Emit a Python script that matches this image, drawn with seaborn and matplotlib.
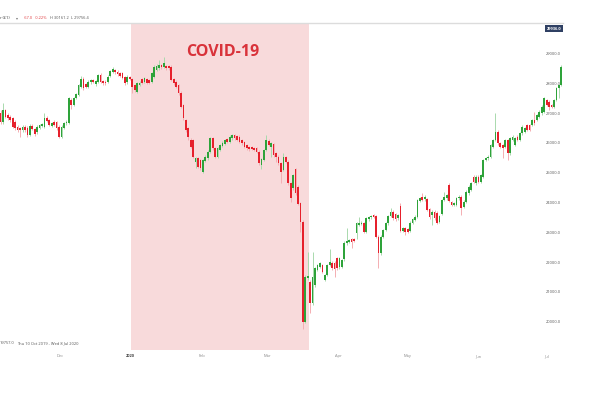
import matplotlib
matplotlib.use("Agg")
import matplotlib.pyplot as plt
import matplotlib.transforms as mtransforms
import numpy as np
import pandas as pd
import seaborn as sns

# ---------------- data ----------------
opens = [
    26992, 26712, 27104, 26936, 26880, 26824, 26712, 26544, 26488, 26432,
    26544, 26510, 26280, 26577, 26466, 26354, 26510, 26577, 26544, 26846,
    26768, 26577, 26712, 26712, 26544, 26209, 26510, 26656, 26656, 27440,
    27272, 27518, 27607, 27887, 28144, 27965, 27887, 28032, 28111, 27965,
    28055, 28279, 28077, 28055, 28055, 28256, 28390, 28447, 28390, 28335,
    28335, 28223, 28032, 28223,
    28134, 27943, 27720, 27943, 28134, 28055, 28134, 28111, 28055, 28223,
    28447, 28503, 28615, 28559, 28581, 28581, 28559, 28134, 28055, 27943,
    27686, 27272, 26768, 26489, 26097, 26097, 25370, 25482, 25426, 25034,
    25404, 25482, 25705, 26153, 25817, 25538, 25761, 25895, 25963, 26119,
    26041, 26153, 26265, 26231, 26209, 26097, 26041, 25929, 25873, 25850,
    25817, 25817, 25705,
    25258, 25426, 25762, 26075, 25874, 25963, 25650, 25538, 25314, 25090,
    25515, 25370, 24643, 24475, 25113, 24531, 23971, 23356, 20000, 21453,
    21341, 20614, 21230, 21733, 21845, 21901, 21397, 21565, 21901, 21979,
    21979, 22125, 21823, 21845,
    22092, 22630, 22686, 22764, 22764, 22965, 23245, 23279, 23301, 23021,
    23435, 23502, 23581, 23547, 22853, 22294, 22853, 23077, 23301, 23547,
    23693, 23614, 23469, 23883, 23055, 23133, 23100, 23055, 23323, 23413,
    23525, 24062, 24196, 24107, 24107, 23771, 23581, 23693, 23659, 23357,
    23614, 24084, 24140,
    24600, 24000, 23920, 23920, 24140, 24196, 23860, 24028, 24306, 24418,
    24865, 24641, 24865, 24697, 24865, 25425, 25481, 25537, 25872, 26096,
    26376, 25984, 25928, 25872, 26096, 25649, 26096, 25928, 26208, 26096,
    26320, 26376, 26600, 26600, 26600, 26768, 26768, 26880, 26991, 27047,
    27439, 27383, 27271, 27215, 27439, 27831, 27943,
]
closes = [
    26712, 27104, 26880, 26824, 26768, 26544, 26488, 26432, 26420, 26544,
    26432, 26264, 26577, 26466, 26287, 26544, 26600, 26622, 26824, 26735,
    26600, 26656, 26600, 26488, 26209, 26544, 26656, 26712, 27495, 27272,
    27495, 27630, 27943, 28144, 27831, 27887, 28055, 28111, 28055, 28077,
    28279, 28055, 27999, 27999, 28223, 28413, 28480, 28368, 28301, 28256,
    28189, 27999, 28223, 28144,
    27887, 27776, 27999, 28022, 28022, 28167, 28022, 28022, 28335, 28559,
    28581, 28615, 28537, 28671, 28503, 28503, 28111, 27999, 27887, 27664,
    27216, 26824, 26433, 26209, 25873, 25538, 25482, 25202, 25146, 25426,
    25538, 25705, 26153, 25817, 25538, 25817, 25929, 26007, 26097, 26041,
    26209, 26265, 26153, 26097, 26041, 25985, 25873, 25817, 25784, 25790,
    25761, 25705, 25314,
    25448, 25762, 26097, 25929, 25985, 25594, 25538, 25314, 25034, 25515,
    25370, 24643, 24139, 24922, 24307, 23949, 23356, 20000, 21509, 21532,
    20614, 21509, 21789, 21901, 21957, 21677, 21565, 21901, 22013, 21789,
    21756, 21789, 22125, 22069,
    22652, 22708, 22741, 22686, 22708, 23301, 23323, 23323, 23021, 23469,
    23502, 23547, 23525, 22853, 22294, 22853, 23077, 23301, 23547, 23693,
    23469, 23435, 23581, 23055, 23133, 23021, 23021, 23323, 23435, 23525,
    24084, 24140, 24084, 24196, 23749, 23502, 23693, 23469, 23323, 23547,
    24084, 24196, 24252,
    24050, 23920, 23970, 24140, 24196, 23805, 24028, 24364, 24530, 24641,
    24697, 24865, 24697, 24921, 25425, 25481, 25537, 25928, 26096, 26376,
    25984, 25872, 25816, 26096, 25649, 26152, 26208, 26152, 26096, 26320,
    26544, 26488, 26432, 26432, 26768, 26656, 26936, 27047, 27215, 27495,
    27271, 27215, 27215, 27439, 27831, 27943, 28558,
]
highs = [
    27100, 27330, 27150, 27000, 26930, 26880, 26760, 26600, 26540, 26600,
    26600, 26560, 26620, 26630, 26510, 26590, 26650, 26680, 26992, 26900,
    26810, 26700, 26760, 26750, 26590, 26600, 26700, 26760, 27550, 27490,
    27540, 27680, 27990, 28250, 28200, 28010, 28100, 28160, 28150, 28120,
    28320, 28330, 28120, 28100, 28270, 28460, 28560, 28490, 28430, 28380,
    28380, 28260, 28270, 28260,
    28170, 27990, 28040, 28070, 28180, 28210, 28180, 28150, 28380, 28600,
    28640, 28783, 28660, 28895, 28630, 28630, 28600, 28180, 28100, 27990,
    27730, 27320, 26810, 26530, 26150, 26140, 25530, 25530, 25470, 25470,
    25580, 25750, 26200, 26200, 25860, 25860, 25970, 26050, 26140, 26160,
    26250, 26310, 26310, 26270, 26250, 26140, 26080, 25970, 25910, 25890,
    25860, 25860, 25750,
    25500, 25800, 26265, 26120, 26030, 26010, 25700, 25580, 25360, 25650,
    25560, 25410, 24690, 24970, 25160, 24580, 24020, 23400, 21560, 22349,
    21390, 22349, 21840, 21950, 22000, 21950, 21610, 21950, 22450, 22030,
    22030, 22170, 22170, 22110,
    22700, 23133, 22790, 22810, 22810, 23350, 23525, 23370, 23350, 23510,
    23550, 23590, 23630, 23590, 22900, 22900, 23120, 23350, 23590, 23804,
    23740, 23660, 23630, 23972, 23180, 23180, 23140, 23370, 23480, 23570,
    24130, 24190, 24308, 24240, 24150, 23810, 23740, 23740, 23700, 23590,
    24130, 24364, 24300,
    24650, 24050, 24020, 24190, 24240, 24240, 24080, 24410, 24580, 24690,
    24910, 24910, 24910, 24970, 25470, 25530, 25580, 25970, 26140, 26991,
    26420, 26030, 25970, 26140, 26140, 26200, 26250, 26200, 26250, 26370,
    26590, 26530, 26640, 26640, 26810, 27047, 26980, 27090, 27260, 27540,
    27480, 27430, 27310, 27480, 27870, 27990, 28600,
]
lows = [
    26650, 26650, 26820, 26780, 26700, 26500, 26430, 26380, 26209, 26380,
    26380, 26200, 26230, 26420, 26230, 26300, 26470, 26540, 26500, 26690,
    26550, 26530, 26550, 26440, 26150, 26150, 26470, 26610, 26620, 27150,
    27230, 27470, 27560, 27850, 27780, 27840, 27850, 27990, 28010, 27920,
    28010, 28010, 27950, 27950, 28010, 28210, 28350, 28320, 28250, 28210,
    28140, 27950, 27990, 28100,
    27664, 27720, 27680, 27900, 27980, 28010, 27980, 27980, 28010, 28180,
    28400, 28460, 28490, 28510, 28460, 28460, 28070, 27950, 27840, 27610,
    27170, 26780, 26380, 26097, 25820, 25480, 25146, 25150, 25090, 24990,
    25360, 25440, 25660, 25770, 25480, 25490, 25720, 25850, 25920, 26000,
    26000, 26110, 26110, 26050, 26000, 25940, 25830, 25770, 25740, 25750,
    25720, 25660, 25260,
    25113, 25380, 25720, 25880, 25538, 25540, 25370, 25260, 24643, 25040,
    25320, 24590, 24027, 24420, 24250, 23900, 23020, 19757, 19950, 21400,
    20279, 20560, 21180, 21690, 21800, 21630, 21350, 21520, 21860, 21740,
    21509, 21740, 21780, 21800,
    22050, 22590, 22640, 22462, 22660, 22764, 23200, 23230, 22970, 22970,
    23390, 23460, 23480, 22800, 21790, 22250, 22810, 23030, 23260, 23500,
    23420, 23390, 23420, 23010, 23010, 22909, 22980, 23010, 23280, 23370,
    23480, 24020, 24040, 24060, 23700, 23450, 23245, 23420, 23270, 23310,
    23570, 24040, 24100,
    24000, 23870, 23870, 23870, 24100, 23581, 23810, 23980, 24260, 24370,
    24650, 24600, 24650, 24650, 24820, 25380, 25440, 25490, 25830, 26050,
    25940, 25830, 25481, 25830, 25425, 25600, 26050, 25880, 26050, 26050,
    26280, 26330, 26390, 26390, 26560, 26610, 26720, 26840, 26950, 27000,
    27230, 27100, 27170, 27170, 27390, 27500, 27900,
]

first_candle = "2019-11-05"
last_candle = "2020-07-07 12:00"
covid_window = ("2020-01-01", "2020-03-19")
month_ticks = ["2019-12-01", "2020-01-01", "2020-02-01", "2020-03-01",
               "2020-04-01", "2020-05-01", "2020-06-01", "2020-07-01"]
month_labels = ["Dec", "2020", "Feb", "Mar", "Apr", "May", "Jun", "Jul"]
price_ticks = [20000, 21000, 22000, 23000, 24000, 25000, 26000, 27000, 28000, 29000]
last_price = 29936.0

# ---------------- styling ----------------
sns.set_theme(style="white")
plt.rcParams["font.family"] = ["Open Sans", "DejaVu Sans"]

UP_BODY, DOWN_BODY = "#2ea33a", "#e6202c"
UP_WICK, DOWN_WICK = "#a9d9ad", "#f4aeb2"
SMALL = 2.9

fig = plt.figure(figsize=(5.9, 3.94), dpi=100)
W, H = 590, 394
ax_left, ax_right, ax_top, ax_bottom = 0, 563, 23, 350
ax = fig.add_axes([ax_left / W, 1 - ax_bottom / H,
                   (ax_right - ax_left) / W, (ax_bottom - ax_top) / H])

df = pd.DataFrame({
    "date": pd.date_range(first_candle, last_candle, periods=len(closes)),
    "open": opens, "high": highs, "low": lows, "close": closes,
})
df["up"] = df["close"] >= df["open"]
df["bottom"] = df[["open", "close"]].min(axis=1)
df["height"] = (df["close"] - df["open"]).abs().clip(lower=25)

ax.axvspan(pd.Timestamp(covid_window[0]), pd.Timestamp(covid_window[1]),
           color="#f8dadb", zorder=0, lw=0)

ax.vlines(df["date"], df["low"], df["high"],
          colors=np.where(df["up"], UP_WICK, DOWN_WICK), lw=0.7, zorder=2)
ax.bar(df["date"], df["height"], bottom=df["bottom"], width=0.75,
       color=np.where(df["up"], UP_BODY, DOWN_BODY), lw=0, zorder=3)

ax.set_xlim(pd.Timestamp("2019-11-04 18:00"), pd.Timestamp("2020-07-08 06:00"))
ax.set_ylim(19050, 30023)

# axes decoration (only the light top rule is kept)
for side in ("left", "right", "bottom"):
    ax.spines[side].set_visible(False)
ax.spines["top"].set_visible(True)
ax.spines["top"].set_color("#dcdcdc")
ax.spines["top"].set_linewidth(1.0)
ax.grid(False)
ax.set_facecolor("none")

ax.xaxis.tick_bottom()
ax.set_xticks(pd.to_datetime(month_ticks))
ax.set_xticklabels(month_labels)
ax.tick_params(axis="x", which="both", bottom=True, top=False, length=0,
               pad=3.2, labelsize=SMALL, labelcolor="#8a8a8a",
               labelbottom=True, labeltop=False)
for lbl in ax.get_xticklabels():
    if lbl.get_text() == "2020":
        lbl.set_fontweight("bold")
        lbl.set_color("#444444")

ax.yaxis.tick_right()
ax.set_yticks(price_ticks)
ax.set_yticklabels([f"{v:.1f}" for v in price_ticks])
ax.tick_params(axis="y", length=0, pad=-1.6, labelsize=SMALL, labelcolor="#555555")
for lbl in ax.get_yticklabels():
    lbl.set_horizontalalignment("right")

# last price tag
trans = mtransforms.blended_transform_factory(ax.transAxes, ax.transData)
ax.text(0.997, last_price - 110, f"{last_price:.1f}", transform=trans,
        ha="right", va="center", fontsize=SMALL, color="white", fontweight="bold",
        bbox=dict(boxstyle="square,pad=0.4", fc="#2f4063", ec="none"), zorder=5)

# COVID label
ax.text(0.395, 0.911, "COVID-19", transform=ax.transAxes, ha="center",
        va="center", fontsize=11.5, fontweight="bold", color="#d9323a", zorder=4)

# header line
hy = 1 - 18 / H
fig.text(0 / W, hy, "r (£1)", fontsize=SMALL, color="#333333", va="center")
fig.text(16 / W, hy, "▾", fontsize=SMALL, color="#777777", va="center",
         family=["DejaVu Sans"])
fig.text(24 / W, hy, "-67.0", fontsize=SMALL, color="#e03a3e", va="center")
fig.text(35 / W, hy, "-0.22%", fontsize=SMALL, color="#e03a3e", va="center")
fig.text(50 / W, hy, "H 30161.2", fontsize=SMALL, color="#555555", va="center")
fig.text(71 / W, hy, "L 29756.4", fontsize=SMALL, color="#555555", va="center")

# footer info
fy = 1 - 343 / H
fig.text(0 / W, fy, "19757.0", fontsize=SMALL, color="#555555", va="center")
fig.text(17 / W, fy, "Thu 10 Oct 2019 - Wed 8 Jul 2020", fontsize=SMALL,
         color="#555555", va="center")

fig.savefig("out.png", dpi=100, facecolor="white")
